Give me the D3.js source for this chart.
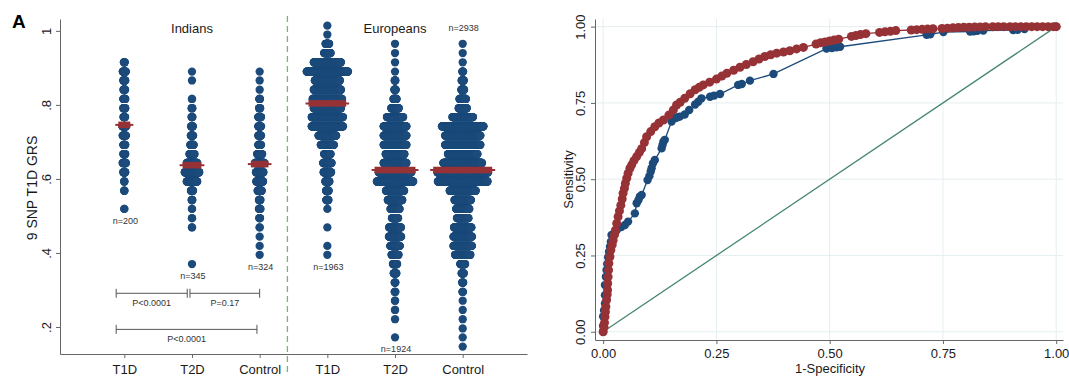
<!DOCTYPE html>
<html>
<head>
<meta charset="utf-8">
<script src="https://cdn.jsdelivr.net/npm/d3@7"></script>
<style>
  body { margin: 0; background: #fff; }
  svg { display: block; }
  text { font-family: "Liberation Sans", Arial, Helvetica, sans-serif; }
</style>
</head>
<body>
<svg id="chart" width="1069" height="376"></svg>
<script>
// ---- panel A data: 9 SNP T1D GRS dot plot ----
const groups = ["T1D", "T2D", "Control", "T1D", "T2D", "Control"];
const populations = ["Indians", "Europeans"];
const groupN = [200, 345, 324, 1963, 1924, 2938];
const medians = [0.746, 0.637, 0.640, 0.804, 0.624, 0.624];

// [GRS bin, number of subjects] per group
const t1dIndians = [[0.915,6],[0.890,20],[0.866,13],[0.841,11],[0.816,13],[0.791,13],[0.767,11],[0.742,24],
  [0.717,21],[0.692,13],[0.667,13],[0.643,21],[0.618,13],[0.593,3],[0.568,3],[0.519,2]];
const t2dIndians = [[0.890,1],[0.866,1],[0.816,2],[0.791,5],[0.767,6],[0.742,12],[0.717,15],[0.692,22],
  [0.667,32],[0.643,66],[0.618,91],[0.593,66],[0.568,14],[0.543,5],[0.519,2],[0.494,2],[0.469,2],[0.370,1]];
const controlIndians = [[0.890,1],[0.866,1],[0.841,1],[0.816,5],[0.791,7],[0.767,18],[0.742,18],[0.717,18],
  [0.692,18],[0.667,32],[0.643,59],[0.618,47],[0.593,43],[0.568,26],[0.543,10],[0.519,10],[0.494,5],
  [0.469,2],[0.444,1],[0.419,1],[0.395,1]];
const t1dEuropeans = [[1.014,1],[0.990,1],[0.965,23],[0.940,41],[0.915,170],[0.890,258],[0.866,157],
  [0.841,170],[0.816,184],[0.791,170],[0.767,196],[0.742,196],[0.717,111],[0.692,83],[0.667,41],
  [0.643,53],[0.618,47],[0.593,26],[0.568,17],[0.543,14],[0.519,1],[0.469,1],[0.419,1],[0.395,1]];
const t2dEuropeans = [[0.965,1],[0.940,1],[0.915,1],[0.890,1],[0.866,5],[0.841,9],[0.816,20],[0.791,47],
  [0.767,102],[0.742,143],[0.717,143],[0.692,143],[0.667,118],[0.643,143],[0.618,204],[0.593,227],
  [0.568,114],[0.543,91],[0.519,57],[0.494,39],[0.469,74],[0.444,77],[0.419,60],[0.395,44],[0.370,27],
  [0.345,17],[0.320,5],[0.295,5],[0.271,2],[0.246,2],[0.221,1],[0.172,1]];
const controlEuropeans = [[0.965,1],[0.940,1],[0.915,1],[0.890,6],[0.866,14],[0.841,18],[0.816,41],
  [0.791,51],[0.767,129],[0.742,260],[0.717,221],[0.692,221],[0.667,185],[0.643,242],[0.618,317],
  [0.593,310],[0.568,163],[0.543,103],[0.519,83],[0.494,72],[0.469,109],[0.444,116],[0.419,116],
  [0.395,96],[0.370,31],[0.345,14],[0.320,7],[0.295,4],[0.271,1],[0.246,1],[0.221,1],[0.196,1],
  [0.172,1],[0.147,1]];
const groupRows = [t1dIndians, t2dIndians, controlIndians, t1dEuropeans, t2dEuropeans, controlEuropeans];

const grsTicks = [0.2, 0.4, 0.6, 0.8, 1];
const grsTickLabels = [".2", ".4", ".6", ".8", "1"];

// pairwise tests among Indians: [from, to, GRS level, label]
const comparisons = [[0.88, 1.93, 0.291, "P<0.0001"], [1.97, 3.0, 0.291, "P=0.17"], [0.88, 2.96, 0.1935, "P<0.0001"]];

// ---- panel B data: ROC curves [1-specificity, sensitivity] ----
const rocBlue = [[0,0],[0,0.02],[0,0.05],[0.002,0.07],[0.004,0.093],[0.004,0.12],[0.004,0.153],[0.006,0.18],
  [0.0074,0.202],[0.009,0.222],[0.011,0.244],[0.013,0.262],[0.015,0.279],[0.017,0.295],[0.0185,0.317],
  [0.026,0.323],[0.03,0.333],[0.04,0.343],[0.048,0.35],[0.055,0.361],[0.07,0.388],[0.074,0.421],
  [0.078,0.432],[0.081,0.443],[0.085,0.448],[0.098,0.497],[0.102,0.51],[0.105,0.525],[0.107,0.536],
  [0.11,0.552],[0.114,0.563],[0.129,0.601],[0.131,0.612],[0.133,0.623],[0.136,0.629],[0.151,0.689],
  [0.158,0.7],[0.164,0.703],[0.169,0.705],[0.18,0.712],[0.19,0.727],[0.203,0.745],[0.21,0.754],
  [0.217,0.765],[0.236,0.77],[0.245,0.774],[0.258,0.779],[0.298,0.809],[0.306,0.812],[0.324,0.823],
  [0.376,0.845],[0.493,0.928],[0.505,0.93],[0.515,0.932],[0.523,0.934],[0.714,0.973],[0.722,0.975],
  [0.751,0.982],[0.81,0.984],[0.818,0.985],[0.826,0.986],[0.839,0.987],[0.905,0.989],[0.915,0.99],
  [0.93,0.992],[1,1]];
const rocRed = [[0,0],[0.002,0.015],[0.003,0.03],[0.004,0.049],[0.005,0.065],[0.006,0.082],[0.0075,0.104],
  [0.009,0.122],[0.0097,0.137],[0.01,0.158],[0.011,0.18],[0.012,0.202],[0.0126,0.224],[0.015,0.246],
  [0.017,0.268],[0.02,0.285],[0.022,0.3],[0.025,0.318],[0.027,0.333],[0.03,0.355],[0.033,0.377],
  [0.036,0.396],[0.039,0.415],[0.042,0.435],[0.044,0.454],[0.047,0.47],[0.049,0.486],[0.052,0.503],
  [0.055,0.519],[0.059,0.535],[0.063,0.547],[0.068,0.561],[0.074,0.574],[0.08,0.588],[0.085,0.6],
  [0.091,0.62],[0.096,0.639],[0.105,0.656],[0.114,0.672],[0.123,0.684],[0.133,0.694],[0.145,0.71],
  [0.155,0.727],[0.162,0.743],[0.17,0.752],[0.18,0.765],[0.192,0.78],[0.203,0.793],[0.212,0.801],
  [0.221,0.809],[0.235,0.818],[0.25,0.828],[0.262,0.838],[0.273,0.847],[0.288,0.857],[0.302,0.867],
  [0.316,0.876],[0.331,0.885],[0.344,0.894],[0.357,0.902],[0.37,0.908],[0.383,0.913],[0.398,0.917],
  [0.412,0.921],[0.427,0.927],[0.442,0.932],[0.47,0.943],[0.48,0.947],[0.49,0.95],[0.5,0.953],
  [0.51,0.956],[0.52,0.959],[0.548,0.968],[0.558,0.971],[0.568,0.974],[0.58,0.977],[0.61,0.981],
  [0.622,0.983],[0.634,0.985],[0.646,0.987],[0.68,0.989],[0.692,0.99],[0.704,0.991],[0.716,0.992],
  [0.728,0.993],[0.748,0.994],[0.76,0.995],[0.772,0.996],[0.784,0.997],[0.796,0.998],[0.808,0.998],
  [0.82,0.999],[0.832,0.999],[0.844,1],[0.86,1],[0.872,1],[0.884,1],[0.898,1],[0.91,1],[0.922,1],
  [0.934,1],[0.946,1],[0.958,1],[0.97,1],[0.982,1],[0.994,1],[1,1]];
const rocTicks = [0, 0.25, 0.5, 0.75, 1];

// ---- drawing ----
const blue = "#1c4b7b", red = "#963236", axisGrey = "#666", ink = "#1a1a1a";
const dotR = 4.15, dotStep = 0.00237;   // horizontal step between stacked dots, in category units
const svg = d3.select("#chart");
svg.append("rect").attr("width", 1069).attr("height", 376).attr("fill", "#fff");

function styleAxis(g) {
  g.attr("font-size", 13).attr("font-family", null);
  g.select(".domain").attr("stroke", axisGrey);
  g.selectAll(".tick line").attr("stroke", axisGrey);
  g.selectAll(".tick text").attr("fill", ink);
}
function rotateLabels(g, dx) {
  g.selectAll(".tick text").attr("x", null).attr("dy", null)
    .attr("text-anchor", "middle").attr("transform", "translate(" + dx + ",0) rotate(-90)");
}

// panel A
var xL = d3.scaleLinear().domain([0.05, 6.95]).range([60, 527]);
var yL = d3.scaleLinear().domain([0.127, 1.032]).range([354, 19]);
var pa = svg.append("g");

pa.append("text").attr("x", 12).attr("y", 28).attr("font-size", 19).attr("font-weight", "bold").attr("fill", "#000").text("A");

pa.append("line")
  .attr("x1", xL(3.41)).attr("x2", xL(3.41)).attr("y1", 16).attr("y2", 376)
  .attr("stroke", "#74b96c").attr("stroke-width", 1.3).attr("stroke-dasharray", "6,4");

pa.append("g").attr("transform", "translate(60,0)")
  .call(d3.axisLeft(yL).tickValues(grsTicks).tickFormat((d, i) => grsTickLabels[i]).tickSize(4).tickSizeOuter(0))
  .call(styleAxis).call(g => rotateLabels(g, -9));

pa.append("g").attr("transform", "translate(0,354)")
  .call(d3.axisBottom(xL).tickValues([1, 2, 3, 4, 5, 6]).tickFormat(d => groups[d - 1]).tickSize(4).tickPadding(7).tickSizeOuter(0))
  .call(styleAxis);

pa.append("text").attr("transform", "translate(37,188) rotate(-90)").attr("text-anchor", "middle")
  .attr("font-size", 14).attr("fill", ink).text("9 SNP T1D GRS");

pa.selectAll(".pop").data(populations).enter().append("text")
  .attr("x", (d, i) => xL(2 + i * 3)).attr("y", 32.5).attr("text-anchor", "middle")
  .attr("font-size", 13).attr("fill", ink).text(d => d);

// dots
var dots = [];
groupRows.forEach(function (rows, g) {
  rows.forEach(function (r) {
    for (var i = 0; i < r[1]; i++) dots.push({ pos: g + 1 + (i - (r[1] - 1) / 2) * dotStep, v: r[0] });
  });
});
pa.append("g").selectAll("circle").data(dots).enter().append("circle")
  .attr("cx", d => xL(d.pos)).attr("cy", d => yL(d.v)).attr("r", dotR).attr("fill", blue);

// medians
medians.forEach(function (m, g) {
  var rows = groupRows[g];
  var near = rows.reduce((a, b) => Math.abs(b[0] - m) < Math.abs(a[0] - m) ? b : a);
  var cx = xL(g + 1);
  var half = xL(g + 1 + (near[1] - 1) / 2 * dotStep) - cx + dotR;
  pa.append("line").attr("x1", cx - half - 3).attr("x2", cx + half + 3).attr("y1", yL(m)).attr("y2", yL(m))
    .attr("stroke", red).attr("stroke-width", 2);
  pa.append("rect").attr("x", cx - half).attr("width", 2 * half).attr("y", yL(m) - 3.3).attr("height", 6.6)
    .attr("fill", red);
});

// n labels
groupN.forEach(function (n, g) {
  var vals = groupRows[g].map(r => r[0]);
  var y = g === 5 ? yL(d3.max(vals)) - 12.5 : yL(d3.min(vals)) + 15;
  pa.append("text").attr("x", xL(g + 1) + 1).attr("y", y).attr("text-anchor", "middle")
    .attr("font-size", 9).attr("fill", "#333").text("n=" + n);
});

// comparison brackets
comparisons.forEach(function (c) {
  var y = yL(c[2]), x0 = xL(c[0]), x1 = xL(c[1]);
  var b = pa.append("g").attr("stroke", "#555").attr("stroke-width", 1);
  b.append("line").attr("x1", x0).attr("x2", x1).attr("y1", y).attr("y2", y);
  b.append("line").attr("x1", x0).attr("x2", x0).attr("y1", y - 4.5).attr("y2", y + 4.5);
  b.append("line").attr("x1", x1).attr("x2", x1).attr("y1", y - 4.5).attr("y2", y + 4.5);
  pa.append("text").attr("x", (x0 + x1) / 2).attr("y", y + 13).attr("text-anchor", "middle")
    .attr("font-size", 9).attr("fill", "#333").text(c[3]);
});

// panel B
var xR = d3.scaleLinear().domain([-0.018, 1.015]).range([595, 1063]);
var yR = d3.scaleLinear().domain([-0.027, 1.025]).range([340, 19]);
var pb = svg.append("g");

var grid = pb.append("g").attr("stroke", "#e5eef1").attr("stroke-width", 1);
grid.selectAll(".gx").data(rocTicks).enter().append("line")
  .attr("x1", d => xR(d)).attr("x2", d => xR(d)).attr("y1", 19).attr("y2", 340);
grid.selectAll(".gy").data(rocTicks).enter().append("line")
  .attr("y1", d => yR(d)).attr("y2", d => yR(d)).attr("x1", 595).attr("x2", 1063);

pb.append("g").attr("transform", "translate(595,0)")
  .call(d3.axisLeft(yR).tickValues(rocTicks).tickFormat(d3.format(".2f")).tickSize(4).tickSizeOuter(0))
  .call(styleAxis).call(g => rotateLabels(g, -10));
pb.append("g").attr("transform", "translate(0,340)")
  .call(d3.axisBottom(xR).tickValues(rocTicks).tickFormat(d3.format(".2f")).tickSize(4).tickPadding(5).tickSizeOuter(0))
  .call(styleAxis);

pb.append("text").attr("transform", "translate(573,179.5) rotate(-90)").attr("text-anchor", "middle")
  .attr("font-size", 13).attr("fill", ink).text("Sensitivity");
pb.append("text").attr("x", 830).attr("y", 373).attr("text-anchor", "middle")
  .attr("font-size", 13).attr("fill", ink).text("1-Specificity");

var line = d3.line().x(d => xR(d[0])).y(d => yR(d[1]));
pb.append("path").datum([[0, 0], [1, 1]]).attr("d", line).attr("fill", "none")
  .attr("stroke", "#46866f").attr("stroke-width", 1.3);

[[rocBlue, blue, 4.2], [rocRed, red, 4.5]].forEach(function (s) {
  pb.append("path").datum(s[0]).attr("d", line).attr("fill", "none").attr("stroke", s[1]).attr("stroke-width", 1.3);
  pb.append("g").selectAll("circle").data(s[0]).enter().append("circle")
    .attr("cx", d => xR(d[0])).attr("cy", d => yR(d[1])).attr("r", s[2]).attr("fill", s[1]);
});
</script>
</body>
</html>
